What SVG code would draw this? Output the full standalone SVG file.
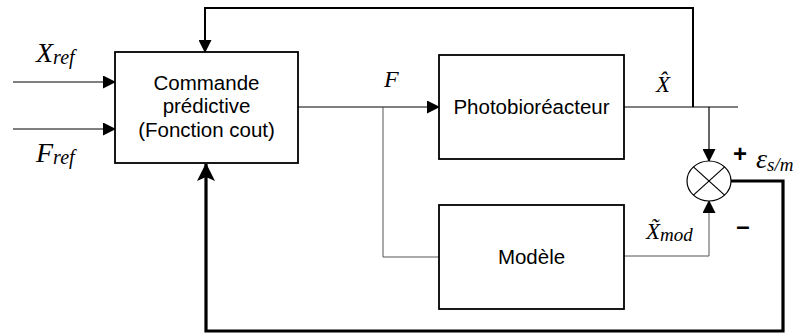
<svg xmlns="http://www.w3.org/2000/svg" width="805" height="336" viewBox="0 0 805 336">
<style>
.box{fill:#fff;stroke:#000;stroke-width:1.8}
.t{font-family:"Liberation Sans",Arial,sans-serif;font-size:20.5px;fill:#000;text-anchor:middle}
.m{font-family:"Liberation Serif","Times New Roman",serif;font-style:italic;fill:#000}
.thin{fill:none;stroke:#000;stroke-width:1.2}
.med{fill:none;stroke:#000;stroke-width:2}
.gray{fill:none;stroke:#555;stroke-width:1}
.thick{fill:none;stroke:#000;stroke-width:3.2}
.sign{font-family:"Liberation Sans",Arial,sans-serif;font-size:24px;font-weight:bold;fill:#000;text-anchor:middle}
</style>
<defs>
<marker id="ar" markerWidth="13" markerHeight="13" refX="12" refY="6.5" orient="auto" markerUnits="userSpaceOnUse">
<path d="M0,0 L13,6.5 L0,13 Z" fill="#000"/>
</marker>
<marker id="ar2" markerWidth="18" markerHeight="18" refX="17" refY="9" orient="auto" markerUnits="userSpaceOnUse">
<path d="M0,0 L18,9 L0,18 L4,9 Z" fill="#000"/>
</marker>
</defs>
<g id="connectors">
<line class="thin" x1="13" y1="82" x2="115" y2="82" marker-end="url(#ar)"/>
<line class="thin" x1="13" y1="129" x2="115" y2="129" marker-end="url(#ar)"/>
<line class="thin" x1="298" y1="107" x2="439" y2="107" marker-end="url(#ar)"/>
<polyline class="gray" points="383,107 383,257 439,257"/>
<line class="thin" x1="624" y1="107" x2="738" y2="107"/>
<polyline class="med" points="693,107 693,8 205,8 205,52" marker-end="url(#ar)"/>
<line class="thin" x1="709" y1="107" x2="709" y2="161" marker-end="url(#ar)"/>
<polyline class="gray" points="624,256 709,256 709,201" marker-end="url(#ar)"/>
<polyline class="thick" points="731,181 783,181 783,331 206,331 206,164" marker-end="url(#ar2)"/>
</g>
<g id="commande">
<rect class="box" x="115" y="52" width="183" height="111"/>
<text class="t" x="206.5" y="90">Commande</text>
<text class="t" x="206.5" y="113">prédictive</text>
<text class="t" x="206.5" y="137">(Fonction cout)</text>
</g>
<g id="photobioreacteur">
<rect class="box" x="439" y="55" width="185" height="104"/>
<text class="t" x="531.5" y="114">Photobioréacteur</text>
</g>
<g id="modele">
<rect class="box" x="439" y="205" width="185" height="104"/>
<text class="t" x="531.5" y="264">Modèle</text>
</g>
<g id="sum">
<ellipse cx="709" cy="181" rx="22" ry="20" fill="#fff" stroke="#000" stroke-width="1.2"/>
<line class="thin" x1="693.4" y1="166.9" x2="724.6" y2="195.1"/>
<line class="thin" x1="724.6" y1="166.9" x2="693.4" y2="195.1"/>
</g>
<g id="labels">
<text class="m" x="36" y="62" font-size="28">X<tspan font-size="20" dy="2">ref</tspan></text>
<text class="m" x="36" y="162" font-size="28">F<tspan font-size="20" dy="2">ref</tspan></text>
<text class="m" x="384" y="87" font-size="24">F</text>
<text class="m" x="656" y="92" font-size="23">X̂</text>
<text class="m" x="646" y="239" font-size="23">X̃<tspan font-size="19" dy="2">mod</tspan></text>
<text class="sign" x="740" y="162">+</text>
<text class="sign" x="743" y="234">–</text>
<text class="m" x="756" y="168" font-size="28">ε<tspan font-size="19" dy="3">s/m</tspan></text>
</g>
</svg>
